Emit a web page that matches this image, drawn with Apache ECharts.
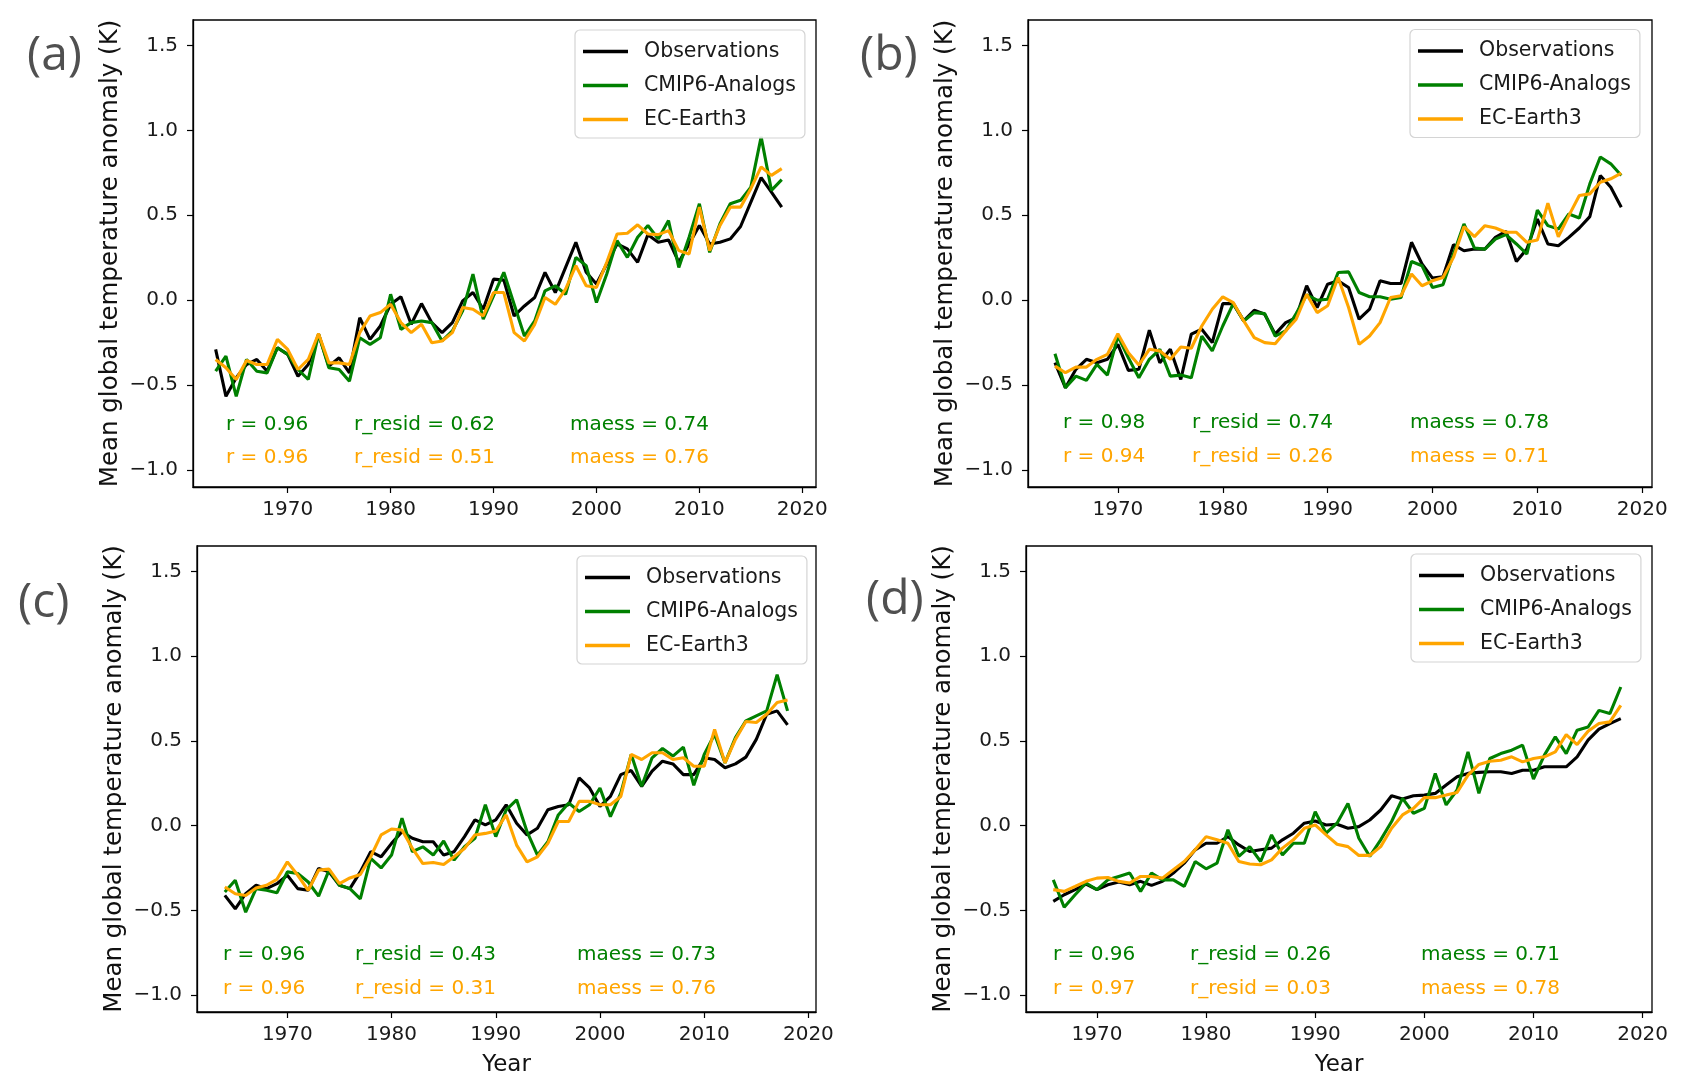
<!DOCTYPE html>
<html>
<head>
<meta charset="utf-8">
<script src="https://cdn.jsdelivr.net/npm/echarts@6/dist/echarts.min.js"></script>
<style>
  html, body { margin: 0; padding: 0; background: #fff; }
  #chart { width: 1686px; height: 1089px; }
</style>
</head>
<body>
<div id="chart"></div>
<script>
// ---------------- DATA ----------------
const seriesNames = ['Observations', 'CMIP6-Analogs', 'EC-Earth3'];
const yTicks = [-1.0, -0.5, 0.0, 0.5, 1.0, 1.5];
const xTicks = [1970, 1980, 1990, 2000, 2010, 2020];
const panelLabels = ['(a)', '(b)', '(c)', '(d)'];

const yearsA = [1963,1964,1965,1966,1967,1968,1969,1970,1971,1972,1973,1974,1975,1976,1977,1978,1979,1980,1981,1982,1983,1984,1985,1986,1987,1988,1989,1990,1991,1992,1993,1994,1995,1996,1997,1998,1999,2000,2001,2002,2003,2004,2005,2006,2007,2008,2009,2010,2011,2012,2013,2014,2015,2016,2017,2018];
const yearsBC = [1964,1965,1966,1967,1968,1969,1970,1971,1972,1973,1974,1975,1976,1977,1978,1979,1980,1981,1982,1983,1984,1985,1986,1987,1988,1989,1990,1991,1992,1993,1994,1995,1996,1997,1998,1999,2000,2001,2002,2003,2004,2005,2006,2007,2008,2009,2010,2011,2012,2013,2014,2015,2016,2017,2018];
const yearsD = [1966,1967,1968,1969,1970,1971,1972,1973,1974,1975,1976,1977,1978,1979,1980,1981,1982,1983,1984,1985,1986,1987,1988,1989,1990,1991,1992,1993,1994,1995,1996,1997,1998,1999,2000,2001,2002,2003,2004,2005,2006,2007,2008,2009,2010,2011,2012,2013,2014,2015,2016,2017,2018];

// Panel (a)
const obsA  = [-0.29,-0.566,-0.457,-0.379,-0.349,-0.418,-0.28,-0.319,-0.448,-0.379,-0.2,-0.388,-0.339,-0.428,-0.103,-0.231,-0.152,-0.024,0.02,-0.142,-0.02,-0.132,-0.191,-0.132,-0.004,0.045,-0.053,0.124,0.118,-0.093,-0.034,0.016,0.164,0.045,0.193,0.341,0.164,0.095,0.213,0.331,0.302,0.223,0.386,0.341,0.355,0.223,0.331,0.44,0.331,0.341,0.361,0.434,0.578,0.722,0.637,0.548];
const cmipA = [-0.418,-0.329,-0.566,-0.349,-0.418,-0.428,-0.28,-0.319,-0.408,-0.467,-0.2,-0.398,-0.408,-0.477,-0.221,-0.26,-0.221,0.035,-0.172,-0.132,-0.122,-0.132,-0.24,-0.181,-0.063,0.154,-0.112,0.026,0.164,-0.024,-0.211,-0.122,0.055,0.085,0.035,0.252,0.203,-0.014,0.154,0.351,0.252,0.371,0.44,0.361,0.469,0.193,0.371,0.568,0.282,0.45,0.568,0.588,0.666,0.962,0.647,0.71];
const ecA   = [-0.349,-0.398,-0.467,-0.355,-0.379,-0.379,-0.231,-0.29,-0.408,-0.349,-0.197,-0.369,-0.369,-0.379,-0.191,-0.093,-0.073,-0.024,-0.132,-0.191,-0.142,-0.25,-0.24,-0.191,-0.043,-0.053,-0.093,0.045,0.045,-0.191,-0.24,-0.142,0.016,-0.024,0.065,0.203,0.085,0.075,0.223,0.39,0.394,0.444,0.39,0.386,0.41,0.292,0.272,0.548,0.292,0.44,0.548,0.548,0.657,0.785,0.735,0.775];

// Panel (b)
const obsB  = [-0.368,-0.516,-0.407,-0.348,-0.368,-0.348,-0.26,-0.413,-0.407,-0.177,-0.368,-0.289,-0.467,-0.2,-0.171,-0.25,-0.02,-0.02,-0.122,-0.059,-0.083,-0.2,-0.132,-0.102,0.085,-0.043,0.094,0.114,0.075,-0.112,-0.053,0.114,0.098,0.098,0.341,0.213,0.13,0.138,0.327,0.291,0.301,0.301,0.37,0.406,0.228,0.301,0.478,0.331,0.321,0.37,0.425,0.492,0.734,0.665,0.547];
const cmipB = [-0.315,-0.516,-0.447,-0.472,-0.378,-0.441,-0.211,-0.339,-0.457,-0.348,-0.289,-0.447,-0.441,-0.457,-0.211,-0.299,-0.152,-0.02,-0.122,-0.073,-0.079,-0.211,-0.181,-0.079,0.031,0.0,0.006,0.163,0.167,0.045,0.02,0.02,0.006,0.016,0.228,0.203,0.075,0.091,0.272,0.449,0.307,0.301,0.36,0.386,0.331,0.272,0.531,0.439,0.419,0.508,0.484,0.685,0.843,0.803,0.734];
const ecB   = [-0.388,-0.427,-0.394,-0.394,-0.348,-0.319,-0.197,-0.309,-0.382,-0.289,-0.299,-0.348,-0.276,-0.283,-0.152,-0.053,0.02,-0.014,-0.122,-0.22,-0.25,-0.256,-0.181,-0.112,0.035,-0.073,-0.033,0.134,-0.043,-0.26,-0.211,-0.132,0.016,0.026,0.154,0.085,0.114,0.134,0.252,0.433,0.374,0.439,0.425,0.4,0.4,0.341,0.354,0.571,0.374,0.498,0.616,0.626,0.695,0.715,0.748];

// Panel (c)
const obsC  = [-0.412,-0.491,-0.402,-0.352,-0.372,-0.343,-0.293,-0.372,-0.382,-0.253,-0.273,-0.352,-0.372,-0.273,-0.154,-0.184,-0.105,-0.036,-0.075,-0.095,-0.095,-0.174,-0.154,-0.065,0.034,0.004,0.034,0.123,0.014,-0.055,-0.016,0.093,0.113,0.123,0.281,0.222,0.113,0.172,0.301,0.325,0.232,0.321,0.38,0.364,0.301,0.301,0.4,0.39,0.341,0.364,0.404,0.509,0.657,0.677,0.594];
const cmipC = [-0.392,-0.323,-0.511,-0.372,-0.382,-0.396,-0.273,-0.283,-0.333,-0.416,-0.263,-0.352,-0.372,-0.432,-0.194,-0.25,-0.174,0.044,-0.154,-0.125,-0.174,-0.091,-0.204,-0.125,-0.075,0.123,-0.065,0.093,0.152,-0.036,-0.174,-0.095,0.063,0.133,0.083,0.123,0.222,0.053,0.192,0.42,0.232,0.4,0.455,0.41,0.463,0.238,0.42,0.539,0.37,0.519,0.618,0.648,0.677,0.891,0.677];
const ecC   = [-0.362,-0.402,-0.412,-0.368,-0.352,-0.317,-0.214,-0.293,-0.382,-0.263,-0.257,-0.343,-0.309,-0.289,-0.184,-0.055,-0.02,-0.026,-0.135,-0.224,-0.218,-0.23,-0.184,-0.135,-0.055,-0.046,-0.032,0.063,-0.115,-0.214,-0.184,-0.105,0.024,0.024,0.143,0.143,0.123,0.123,0.172,0.42,0.39,0.43,0.43,0.39,0.4,0.35,0.35,0.568,0.37,0.509,0.614,0.608,0.657,0.727,0.741];

// Panel (d)
const obsD  = [-0.447,-0.408,-0.378,-0.345,-0.378,-0.349,-0.333,-0.349,-0.329,-0.353,-0.329,-0.28,-0.222,-0.143,-0.104,-0.104,-0.065,-0.114,-0.153,-0.143,-0.133,-0.084,-0.045,0.014,0.027,0.004,0.008,-0.016,-0.006,0.033,0.092,0.176,0.157,0.176,0.18,0.19,0.239,0.288,0.308,0.314,0.318,0.318,0.308,0.327,0.327,0.347,0.347,0.347,0.406,0.504,0.569,0.602,0.631];
const cmipD = [-0.32,-0.482,-0.408,-0.339,-0.378,-0.32,-0.3,-0.28,-0.388,-0.28,-0.32,-0.32,-0.359,-0.212,-0.255,-0.222,-0.025,-0.182,-0.124,-0.212,-0.055,-0.173,-0.104,-0.104,0.082,-0.045,0.014,0.131,-0.075,-0.182,-0.084,0.024,0.161,0.073,0.102,0.308,0.122,0.21,0.435,0.19,0.396,0.425,0.445,0.475,0.275,0.416,0.524,0.425,0.563,0.582,0.68,0.661,0.818];
const ecD   = [-0.378,-0.388,-0.359,-0.329,-0.31,-0.306,-0.329,-0.339,-0.3,-0.3,-0.31,-0.261,-0.212,-0.143,-0.065,-0.084,-0.104,-0.212,-0.227,-0.231,-0.202,-0.133,-0.084,-0.016,0.004,-0.055,-0.11,-0.124,-0.176,-0.176,-0.124,-0.016,0.063,0.102,0.165,0.165,0.18,0.196,0.298,0.361,0.38,0.386,0.406,0.376,0.396,0.406,0.435,0.537,0.478,0.557,0.602,0.612,0.71];

// Statistics text (row 1: CMIP6-Analogs, row 2: EC-Earth3)
const statsCmipA = ['r = 0.96', 'r_resid = 0.62', 'maess = 0.74'];
const statsEcA   = ['r = 0.96', 'r_resid = 0.51', 'maess = 0.76'];
const statsCmipB = ['r = 0.98', 'r_resid = 0.74', 'maess = 0.78'];
const statsEcB   = ['r = 0.94', 'r_resid = 0.26', 'maess = 0.71'];
const statsCmipC = ['r = 0.96', 'r_resid = 0.43', 'maess = 0.73'];
const statsEcC   = ['r = 0.96', 'r_resid = 0.31', 'maess = 0.76'];
const statsCmipD = ['r = 0.96', 'r_resid = 0.26', 'maess = 0.71'];
const statsEcD   = ['r = 0.97', 'r_resid = 0.03', 'maess = 0.78'];

// ---------------- STYLE / LAYOUT ----------------
const FONT = 'DejaVu Sans';
const COLORS = ['#000000', '#008000', '#FFA500'];

const panels = [
  { grid: {left: 193, top: 20, width: 623, height: 467}, xr: [1960.8, 2021.33],
    years: yearsA, vals: [obsA, cmipA, ecA], stats: [statsCmipA, statsEcA],
    statX: [226, 354, 570], statY: [424.5, 458], legend: [575, 30], label: [27, 56], xname: false },
  { grid: {left: 1028, top: 20, width: 624, height: 467}, xr: [1961.43, 2020.93],
    years: yearsBC, vals: [obsB, cmipB, ecB], stats: [statsCmipB, statsEcB],
    statX: [1063, 1192, 1410], statY: [423, 457], legend: [1410, 29.5], label: [860, 56], xname: false },
  { grid: {left: 197, top: 546, width: 619, height: 466}, xr: [1961.33, 2020.73],
    years: yearsBC, vals: [obsC, cmipC, ecC], stats: [statsCmipC, statsEcC],
    statX: [223, 355, 577], statY: [955, 989], legend: [577, 556], label: [18, 603], xname: true },
  { grid: {left: 1026, top: 546, width: 626, height: 466}, xr: [1963.5, 2020.86],
    years: yearsD, vals: [obsD, cmipD, ecD], stats: [statsCmipD, statsEcD],
    statX: [1053, 1190, 1421], statY: [955, 989], legend: [1411, 554], label: [866, 600], xname: true }
];

const fmtY = v => (v < 0 ? '\u2212' : '') + Math.abs(v).toFixed(1);

const option = {
  animation: false,
  backgroundColor: '#ffffff',
  grid: [], xAxis: [], yAxis: [], series: [], legend: [], graphic: []
};

panels.forEach((p, k) => {
  option.grid.push(Object.assign({ show: true, borderColor: '#000', borderWidth: 1.3, backgroundColor: 'transparent', containLabel: false }, p.grid));
  option.xAxis.push({
    type: 'value', gridIndex: k, min: p.xr[0], max: p.xr[1],
    name: p.xname ? 'Year' : '', nameLocation: 'middle', nameGap: 42,
    nameTextStyle: { fontFamily: FONT, fontSize: 23, color: '#111' },
    axisLine: { show: true, onZero: false, lineStyle: { color: '#000', width: 1.3 } },
    axisTick: { show: true, inside: false, length: 6, customValues: xTicks, lineStyle: { color: '#000', width: 1.2 } },
    axisLabel: { show: true, margin: 13, customValues: xTicks, fontFamily: FONT, fontSize: 20, color: '#1a1a1a',
      formatter: v => String(Math.round(v)) },
    splitLine: { show: false }
  });
  option.yAxis.push({
    type: 'value', gridIndex: k, min: -1.1, max: 1.65,
    name: 'Mean global temperature anomaly (K)', nameLocation: 'middle', nameGap: 70, nameRotate: 90,
    nameTextStyle: { fontFamily: FONT, fontSize: 24.5, color: '#111' },
    axisLine: { show: true, onZero: false, lineStyle: { color: '#000', width: 1.3 } },
    axisTick: { show: true, inside: false, length: 6, customValues: yTicks, lineStyle: { color: '#000', width: 1.2 } },
    axisLabel: { show: true, margin: 15, customValues: yTicks, fontFamily: FONT, fontSize: 20, color: '#1a1a1a', formatter: fmtY },
    splitLine: { show: false }
  });
  seriesNames.forEach((name, j) => {
    option.series.push({
      type: 'line', name: name, xAxisIndex: k, yAxisIndex: k,
      data: p.years.map((yr, i) => [yr, p.vals[j][i]]),
      showSymbol: false, symbol: 'none', smooth: false,
      lineStyle: { color: COLORS[j], width: 3.1 }, itemStyle: { color: COLORS[j] },
      z: 2 + j, silent: true
    });
  });
  option.legend.push({
    left: p.legend[0], top: p.legend[1], orient: 'vertical',
    data: seriesNames, selectedMode: false,
    icon: 'rect', itemWidth: 45, itemHeight: 3.5, itemGap: 13,
    padding: [11, 9, 8, 8],
    backgroundColor: 'rgba(255,255,255,0.85)', borderColor: '#d4d4d4', borderWidth: 1.2, borderRadius: 5,
    textStyle: { fontFamily: FONT, fontSize: 20.5, color: '#1a1a1a', lineHeight: 21, padding: [0, 0, 0, 11] }
  });
  option.graphic.push({
    type: 'text', x: p.label[0], y: p.label[1],
    style: { text: panelLabels[k], fill: '#505050', font: '48px "Open Sans"', align: 'left', verticalAlign: 'middle', textAlign: 'left', textVerticalAlign: 'middle' }
  });
  p.stats.forEach((row, r) => {
    row.forEach((txt, c) => {
      option.graphic.push({
        type: 'text', x: p.statX[c], y: p.statY[r],
        style: { text: txt, fill: r === 0 ? '#008000' : '#FFA500', font: '20px "DejaVu Sans"', align: 'left', verticalAlign: 'middle', textAlign: 'left', textVerticalAlign: 'middle' }
      });
    });
  });
});

const chart = echarts.init(document.getElementById('chart'), null, { renderer: 'canvas' });
chart.setOption(option);
</script>
</body>
</html>
